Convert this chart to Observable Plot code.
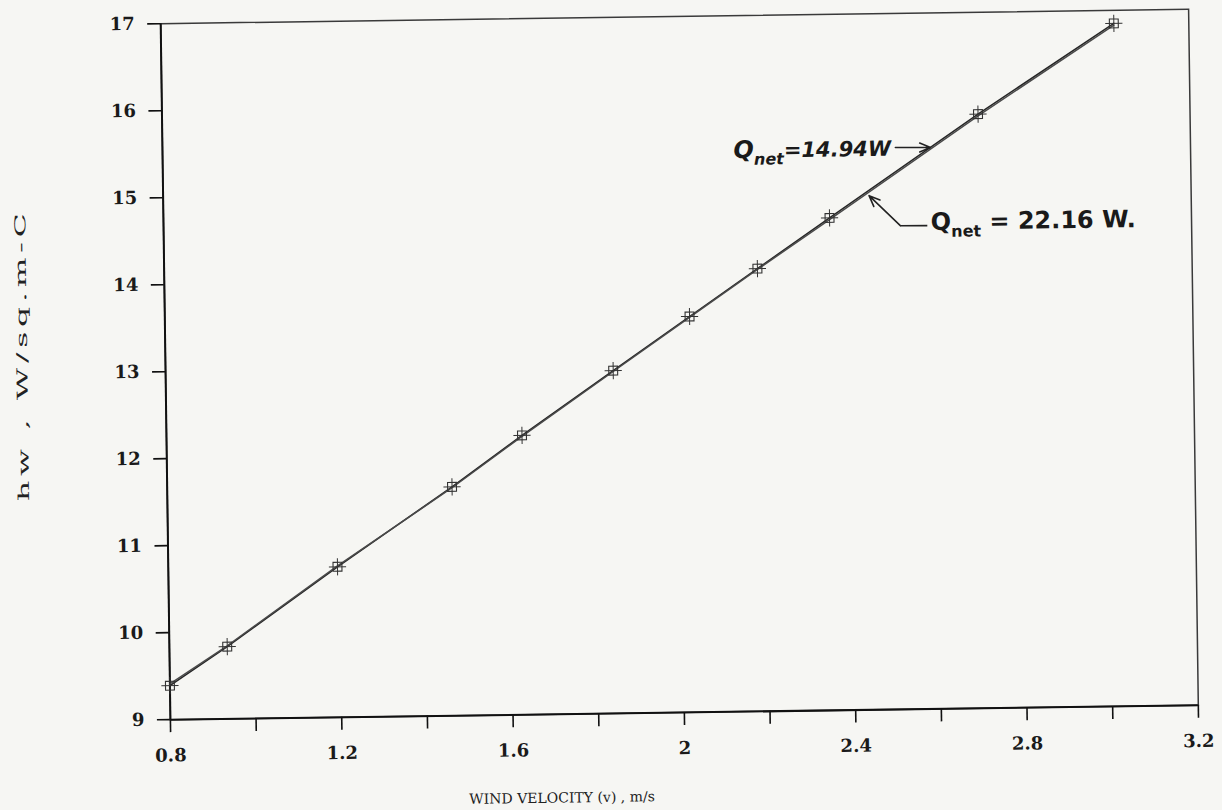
<!DOCTYPE html>
<html><head><meta charset="utf-8">
<script src="https://cdn.jsdelivr.net/npm/d3@7"></script>
<script src="https://cdn.jsdelivr.net/npm/@observablehq/plot@0.6"></script>
<style>
html,body{margin:0;padding:0;background:#f6f6f3;}
#chart{width:1222px;height:810px;position:relative;overflow:hidden;}
#chart svg{position:absolute;left:0;top:0;transform:rotate(-0.8deg);transform-origin:679px 364px;}
</style></head><body><div id="chart"></div>
<script>
// Wind velocity (m/s) and heat transfer coefficient hw (W/sq.m-C)
const velocity = [0.80, 0.935, 1.195, 1.465, 1.63, 1.845, 2.025, 2.185, 2.355, 2.705, 3.025];
const hwQ1494 = [9.39, 9.83, 10.73, 11.63, 12.21, 12.94, 13.55, 14.09, 14.66, 15.83, 16.85];
const hwQ2216 = [9.41, 9.84, 10.74, 11.62, 12.20, 12.93, 13.54, 14.08, 14.64, 15.81, 16.83];
const seriesNames = ["Qnet = 14.94 W", "Qnet = 22.16 W"];

const xTicks = [0.8, 1.0, 1.2, 1.4, 1.6, 1.8, 2.0, 2.2, 2.4, 2.6, 2.8, 3.0, 3.2];
const xTickLabels = ["0.8", "", "1.2", "", "1.6", "", "2", "", "2.4", "", "2.8", "", "3.2"];
const yTicks = [9, 10, 11, 12, 13, 14, 15, 16, 17];
const xTitle = "WIND VELOCITY (v) , m/s";
const yTitle = "hw , W/sq.m-C";

// annotation anchors (data coordinates)
const annText = [
  {x: 2.133, y: 15.45, pre: "Q", sub: "net", post: "=14.94W", italic: true},
  {x: 2.591, y: 14.59, pre: "Q", sub: "net", post: " = 22.16 W.", italic: false}
];
const annArrows = [
  {x1: 2.511, y1: 15.459, x2: 2.593, y2: 15.453},
  {x1: 2.520, y1: 14.56, x2: 2.448, y2: 14.91}
];
const annLeaders = [
  {x1: 2.520, y1: 14.56, x2: 2.583, y2: 14.556}
];

const table = velocity.flatMap((v, i) => [
  {v, hw: hwQ1494[i], s: seriesNames[0]},
  {v, hw: hwQ2216[i], s: seriesNames[1]}
]);
const xLabelMap = new Map(xTicks.map((t, i) => [t, xTickLabels[i]]));

const chart = Plot.plot({
  width: 1222, height: 810,
  marginLeft: 165, marginRight: 29, marginTop: 16, marginBottom: 98,
  style: {background: "transparent", color: "#1a1a1a", fontFamily: "DejaVu Serif", overflow: "visible"},
  x: {domain: [0.8, 3.2]},
  y: {domain: [9, 17]},
  color: {domain: seriesNames, range: ["#262626", "#4a4a4a"]},
  marks: [
    Plot.frame({stroke: "#3a3a3a", strokeWidth: 1.5}),
    Plot.ruleX([0.8], {stroke: "#111", strokeWidth: 2}),
    Plot.ruleY([9], {stroke: "#111", strokeWidth: 2}),
    Plot.axisX({ticks: xTicks, tickFormat: d => xLabelMap.get(d) ?? "", tickSize: 13, tickPadding: 16,
      fontSize: 18, fontWeight: "bold", fontFamily: "DejaVu Serif", label: null, stroke: "#111", strokeWidth: 1.6}),
    Plot.axisY({ticks: yTicks, tickFormat: d => String(d), tickSize: 13, tickPadding: 13,
      fontSize: 18, fontWeight: "bold", fontFamily: "DejaVu Serif", label: null, stroke: "#111", strokeWidth: 1.6}),
    Plot.line(table, {x: "v", y: "hw", z: "s", stroke: "s", strokeWidth: 1.5}),
    Plot.dot(table.filter(d => d.s === seriesNames[0]), {x: "v", y: "hw", symbol: "square", r: 5, stroke: "#333", strokeWidth: 1.1, fill: "none"}),
    Plot.dot(table.filter(d => d.s === seriesNames[0]), {x: "v", y: "hw", symbol: "plus", r: 5.6, stroke: "#333", strokeWidth: 1, fill: "none"}),
    Plot.arrow(annArrows, {x1: "x1", y1: "y1", x2: "x2", y2: "y2", stroke: "#222", strokeWidth: 1.6, headLength: 11, headAngle: 45}),
    Plot.link(annLeaders, {x1: "x1", y1: "y1", x2: "x2", y2: "y2", stroke: "#222", strokeWidth: 1.6}),
    Plot.text(annText, {x: "x", y: "y", text: d => d.pre + d.sub + d.post, textAnchor: "start", lineAnchor: "middle",
      fontFamily: "DejaVu Sans", fontWeight: "bold", fontSize: 23, fill: "#1a1a1a"})
  ]
});

// subscripts for "Q net"
d3.select(chart).selectAll("text").each(function() {
  const a = annText.find(a => a.pre + a.sub + a.post === this.textContent);
  if (!a) return;
  const t = d3.select(this);
  t.text(null);
  if (a.italic) t.attr("font-style", "italic");
  t.append("tspan").attr("font-size", 24).text(a.pre);
  t.append("tspan").attr("font-size", 16).attr("dy", 7).text(a.sub);
  t.append("tspan").attr("dy", -7).attr("font-size", a.italic ? 21 : 24).text(a.post);
});

// axis titles
const s = d3.select(chart);
s.append("text")
  .attr("x", 556).attr("y", 796).attr("dy", "0.35em")
  .attr("text-anchor", "middle")
  .attr("font-family", "DejaVu Serif").attr("font-size", 14).attr("fill", "#222")
  .text(xTitle);
s.append("text")
  .attr("transform", "translate(22,348) rotate(-90) scale(2.1,1)")
  .attr("dy", "0.35em")
  .attr("text-anchor", "middle")
  .attr("font-family", "DejaVu Serif").attr("font-size", 15).attr("fill", "#222")
  .attr("textLength", 137).attr("lengthAdjust", "spacing")
  .text(yTitle);

document.getElementById("chart").appendChild(chart);
</script></body></html>
